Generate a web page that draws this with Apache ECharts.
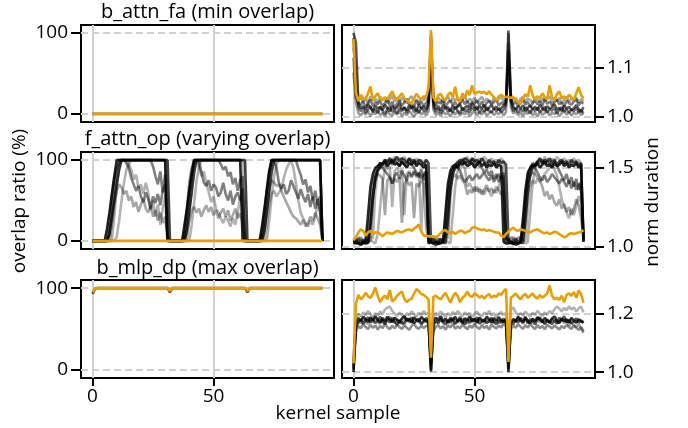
<!DOCTYPE html>
<html><head><meta charset="utf-8">
<script src="https://cdn.jsdelivr.net/npm/echarts@6/dist/echarts.min.js"></script>
<style>html,body{margin:0;padding:0;background:#fff}#c{width:688px;height:428px}</style>
</head><body><div id="c"></div>
<script>
// ---------- tick labels / titles ----------
const panelTitles = ['b_attn_fa (min overlap)', 'f_attn_op (varying overlap)', 'b_mlp_dp (max overlap)'];
const xLabel = 'kernel sample';
const yLeftLabel = 'overlap ratio (%)';
const yRightLabel = 'norm duration';
const xTicks = [0, 50];
const overlapTicks = [0, 100];
const durTicksTop = [1.0, 1.1];
const durTicksMid = [1.0, 1.5];
const durTicksBot = [1.0, 1.2];

// kernel sample index (x)
const samples = Array.from({length: 96}, (_, i) => i);

// ---------- row 1: b_attn_fa ----------
const ltGray = [
0,0,0,0,0,0,0,0,0,0,0,0,0,0,0,0, 0,0,0,0,0,0,0,0,0,0,0,0,0,0,0,0,
0,0,0,0,0,0,0,0,0,0,0,0,0,0,0,0, 0,0,0,0,0,0,0,0,0,0,0,0,0,0,0,0,
0,0,0,0,0,0,0,0,0,0,0,0,0,0,0,0, 0,0,0,0,0,0,0,0,0,0,0,0,0,0,0,0];
const ltOrange = [
0,0,0,0,0,0,0,0,0,0,0,0,0,0,0,0, 0,0,0,0,0,0,0,0,0,0,0,0,0,0,0,0,
0,0,0,0,0,0,0,0,0,0,0,0,0,0,0,0, 0,0,0,0,0,0,0,0,0,0,0,0,0,0,0,0,
0,0,0,0,0,0,0,0,0,0,0,0,0,0,0,0, 0,0,0,0,0,0,0,0,0,0,0,0,0,0,0,0];

const rtGray1 = [
1.170,1.150,1.028,1.018,1.022,1.015,1.026,1.019,1.012,1.024,
1.017,1.021,1.014,1.025,1.018,1.011,1.023,1.016,1.020,1.027,
1.015,1.019,1.013,1.024,1.018,1.021,1.012,1.026,1.017,1.022,
1.015,1.030,1.165,1.030,1.016,1.022,1.013,1.025,1.018,1.020,
1.011,1.024,1.017,1.021,1.026,1.014,1.019,1.023,1.016,1.028,
1.020,1.015,1.022,1.018,1.025,1.013,1.019,1.024,1.016,1.021,
1.014,1.018,1.023,1.030,1.175,1.040,1.020,1.015,1.022,1.017,
1.024,1.012,1.019,1.023,1.016,1.021,1.014,1.025,1.018,1.013,
1.022,1.017,1.020,1.026,1.015,1.019,1.012,1.023,1.017,1.021,
1.014,1.018,1.024,1.016,1.011,1.020];
const rtGray2 = [
1.160,1.060,1.020,1.012,1.018,1.009,1.015,1.022,1.010,1.016,
1.008,1.019,1.013,1.006,1.017,1.021,1.011,1.014,1.007,1.018,
1.012,1.020,1.009,1.015,1.023,1.010,1.016,1.008,1.019,1.013,
1.011,1.025,1.150,1.022,1.010,1.017,1.008,1.014,1.020,1.011,
1.016,1.009,1.021,1.013,1.007,1.018,1.012,1.015,1.010,1.019,
1.014,1.022,1.008,1.016,1.011,1.020,1.013,1.009,1.017,1.012,
1.018,1.010,1.015,1.024,1.135,1.030,1.012,1.018,1.009,1.016,
1.011,1.020,1.014,1.008,1.017,1.012,1.019,1.010,1.015,1.021,
1.009,1.016,1.013,1.018,1.007,1.014,1.020,1.011,1.016,1.009,
1.015,1.012,1.018,1.010,1.014,1.008];
const rtGray3 = [
1.120,1.040,1.030,1.025,1.032,1.020,1.028,1.035,1.022,1.030,
1.026,1.033,1.021,1.029,1.036,1.024,1.031,1.019,1.027,1.034,
1.023,1.030,1.037,1.025,1.028,1.020,1.033,1.026,1.031,1.022,
1.029,1.035,1.140,1.034,1.024,1.031,1.027,1.036,1.022,1.029,
1.033,1.025,1.030,1.021,1.028,1.035,1.026,1.032,1.023,1.030,
1.027,1.034,1.024,1.031,1.020,1.028,1.033,1.025,1.030,1.036,
1.023,1.029,1.026,1.035,1.100,1.032,1.026,1.031,1.022,1.029,
1.034,1.025,1.030,1.021,1.028,1.033,1.026,1.032,1.023,1.037,
1.027,1.031,1.024,1.030,1.035,1.026,1.029,1.022,1.033,1.028,
1.025,1.031,1.036,1.024,1.030,1.027];
const rtGray4 = [
1.090,1.030,1.008,1.003,1.010,1.005,1.012,1.002,1.009,1.006,
1.013,1.004,1.008,1.001,1.011,1.006,1.003,1.010,1.005,1.012,
1.002,1.009,1.004,1.011,1.007,1.001,1.008,1.013,1.005,1.010,
1.003,1.012,1.120,1.015,1.004,1.009,1.002,1.011,1.006,1.008,
1.001,1.010,1.005,1.012,1.003,1.009,1.006,1.011,1.002,1.008,
1.013,1.004,1.010,1.005,1.012,1.003,1.008,1.011,1.004,1.009,
1.006,1.012,1.003,1.010,1.170,1.020,1.007,1.011,1.004,1.009,
1.002,1.010,1.006,1.013,1.004,1.009,1.001,1.011,1.005,1.008,
1.012,1.003,1.009,1.006,1.010,1.002,1.008,1.013,1.005,1.010,
1.003,1.009,1.006,1.011,1.004,1.008];
const rtGray5 = [
1.140,1.100,1.035,1.040,1.030,1.038,1.028,1.042,1.033,1.037,
1.029,1.041,1.034,1.039,1.027,1.036,1.043,1.031,1.038,1.030,
1.040,1.033,1.028,1.037,1.042,1.031,1.036,1.029,1.039,1.034,
1.041,1.030,1.160,1.038,1.029,1.040,1.034,1.027,1.036,1.042,
1.031,1.038,1.033,1.040,1.028,1.036,1.043,1.030,1.037,1.032,
1.039,1.029,1.035,1.041,1.030,1.037,1.033,1.028,1.040,1.034,
1.036,1.042,1.031,1.038,1.150,1.045,1.033,1.039,1.028,1.036,
1.041,1.030,1.037,1.034,1.029,1.040,1.035,1.031,1.038,1.033,
1.036,1.042,1.030,1.037,1.032,1.039,1.028,1.035,1.041,1.031,
1.037,1.033,1.040,1.029,1.036,1.032];
const rtOrange = [
1.158,1.050,1.032,1.045,1.038,1.036,1.048,1.062,1.035,1.042,1.048,1.038,1.034,1.040,1.036,1.044,
1.052,1.040,1.034,1.042,1.048,1.038,1.034,1.030,1.027,1.038,1.047,1.040,1.036,1.042,1.040,1.060,
1.176,1.040,1.031,1.044,1.047,1.038,1.034,1.045,1.050,1.040,1.061,1.035,1.031,1.048,1.038,1.054,
1.044,1.064,1.047,1.050,1.051,1.049,1.051,1.046,1.052,1.045,1.040,1.034,1.042,1.045,1.040,1.041,
1.040,1.039,1.040,1.036,1.030,1.027,1.038,1.046,1.041,1.064,1.043,1.035,1.042,1.038,1.048,1.040,
1.036,1.064,1.040,1.034,1.046,1.052,1.038,1.042,1.036,1.045,1.040,1.034,1.048,1.060,1.045,1.037];

// ---------- row 2: f_attn_op ----------
const lmGray1 = [
0,0,0,0,0,0,15,35,58,80,100,100,100,100,100,100, 100,100,100,100,100,100,100,100,100,100,100,100,100,100,100,0,
0,0,0,0,0,0,20,40,62,82,100,100,100,100,100,100, 100,100,100,100,100,100,100,100,100,100,100,100,100,100,0,0,
0,0,0,0,0,0,18,40,62,84,100,100,100,100,100,100, 100,100,100,100,100,100,100,100,100,100,100,100,100,100,100,0];
const lmGray2 = [
0,0,0,0,0,0,0,10,30,50,70,88,100,100,100,100, 100,100,100,100,100,100,100,100,100,100,100,100,100,100,100,100,
0,0,0,0,0,0,0,15,38,60,85,100,100,100,100,100, 100,100,100,100,100,100,100,100,100,100,100,100,100,100,100,100,
0,0,0,0,0,0,0,12,35,60,85,100,100,100,100,100, 100,100,100,100,100,100,100,100,100,100,100,100,100,100,100,0];
const lmGray3 = [
0,0,0,0,0,0,0,25,55,75,90,97,100,100,96,90, 78,70,62,68,55,48,60,52,40,55,47,58,44,62,70,5,
0,0,0,0,0,0,10,40,72,90,100,100,98,85,72,68, 75,62,70,66,55,60,72,58,50,62,45,55,60,50,65,0,
0,0,0,0,0,0,5,30,60,85,100,100,90,72,65,70, 58,62,75,68,60,52,64,55,48,58,42,55,40,52,35,0];
const lmGray4 = [
0,0,0,0,0,0,0,0,20,45,62,70,66,58,62,50, 55,42,48,36,45,52,40,35,44,30,38,25,35,22,30,0,
0,0,0,0,0,0,0,10,25,38,42,35,40,30,38,44, 36,42,32,38,28,35,40,30,38,25,32,40,28,34,22,0,
0,0,0,0,0,0,0,15,40,65,75,72,68,70,62,55, 48,42,35,30,28,24,20,26,18,22,30,25,35,28,20,0];
const lmGray5 = [
0,0,0,0,0,0,0,0,0,30,65,90,100,100,100,95, 88,76,82,65,70,58,72,60,38,50,30,45,20,40,55,0,
0,0,0,0,0,0,0,0,30,70,95,100,92,80,86,72, 60,48,55,40,35,28,22,30,25,18,28,20,35,55,40,0,
0,0,0,0,0,0,0,0,20,45,58,62,55,60,64,78, 88,95,100,90,72,50,35,28,22,18,25,20,30,45,38,0];
const lmGray6 = [
0,0,0,0,0,0,0,0,0,0,5,25,50,72,88,95, 100,100,100,100,100,100,100,100,100,100,100,100,100,100,100,0,
0,0,0,0,0,0,0,0,0,20,48,75,92,100,100,100, 100,100,100,100,100,100,100,100,100,100,100,100,100,100,100,0,
0,0,0,0,0,0,0,0,0,25,55,80,95,100,100,100, 100,100,100,100,100,100,100,100,100,100,100,100,100,100,100,0];
const lmGray7 = [
0,0,0,0,0,0,0,8,30,65,88,100,100,100,100,100, 100,100,100,100,100,100,100,100,100,92,80,70,86,60,82,0,
0,0,0,0,0,0,5,28,60,85,100,100,100,100,100,100, 100,100,100,100,100,95,88,92,80,85,70,78,62,75,80,0,
0,0,0,0,0,0,10,35,65,88,100,100,100,100,100,100, 100,100,100,100,100,90,82,70,76,60,68,50,62,45,55,0];
const lmOrange = [
0,0,0,0,0,0,0,0,0,0,0,0,0,0,0,0, 0,0,0,0,0,0,0,0,0,0,0,0,0,0,0,0,
0,0,0,0,0,0,0,0,0,0,0,0,0,0,0,0, 0,0,0,0,0,0,0,0,0,0,0,0,0,0,0,0,
0,0,0,0,0,0,0,0,0,0,0,0,0,0,0,0, 0,0,0,0,0,0,0,0,0,0,0,0,0,0,0,0];

const rmGray1 = [
1.03,1.02,1.025,1.015,1.02,1.03,1.20,1.38,1.46,1.50,1.51,1.53,1.52,1.54,1.51,1.53, 1.55,1.52,1.53,1.51,1.54,1.52,1.50,1.53,1.52,1.54,1.51,1.53,1.52,1.50,1.52,1.02,
1.03,1.02,1.03,1.015,1.025,1.03,1.22,1.40,1.48,1.51,1.52,1.50,1.53,1.52,1.54,1.51, 1.52,1.53,1.50,1.52,1.54,1.51,1.53,1.50,1.52,1.51,1.53,1.50,1.52,1.51,1.03,1.02,
1.02,1.03,1.015,1.025,1.02,1.03,1.18,1.36,1.47,1.50,1.52,1.51,1.53,1.50,1.52,1.54, 1.51,1.52,1.50,1.53,1.51,1.52,1.54,1.51,1.53,1.50,1.52,1.51,1.53,1.50,1.52,1.03];
const rmGray2 = [
1.02,1.03,1.02,1.01,1.03,1.02,1.025,1.15,1.32,1.42,1.48,1.50,1.53,1.55,1.54,1.56, 1.53,1.55,1.57,1.54,1.56,1.55,1.53,1.56,1.54,1.55,1.53,1.55,1.54,1.52,1.55,1.53,
1.03,1.02,1.01,1.025,1.02,1.03,1.02,1.18,1.36,1.46,1.50,1.53,1.55,1.54,1.56,1.55, 1.53,1.56,1.54,1.55,1.53,1.56,1.54,1.52,1.55,1.53,1.54,1.52,1.55,1.53,1.54,1.52,
1.03,1.02,1.03,1.01,1.02,1.03,1.02,1.16,1.34,1.45,1.50,1.52,1.54,1.56,1.53,1.55, 1.54,1.56,1.53,1.55,1.52,1.54,1.55,1.53,1.54,1.52,1.55,1.53,1.54,1.52,1.53,1.04];
const rmGray3 = [
1.04,1.03,1.05,1.03,1.04,1.02,1.04,1.25,1.40,1.46,1.49,1.51,1.50,1.48,1.46,1.44, 1.40,1.45,1.47,1.43,1.48,1.45,1.42,1.47,1.44,1.48,1.45,1.47,1.43,1.46,1.48,1.05,
1.04,1.05,1.03,1.04,1.05,1.03,1.15,1.35,1.45,1.49,1.51,1.50,1.48,1.44,1.41,1.43, 1.45,1.42,1.44,1.46,1.43,1.45,1.47,1.44,1.42,1.45,1.41,1.44,1.46,1.43,1.45,1.04,
1.05,1.03,1.04,1.05,1.03,1.04,1.10,1.30,1.42,1.48,1.51,1.50,1.47,1.44,1.42,1.45, 1.41,1.43,1.46,1.44,1.42,1.40,1.43,1.41,1.38,1.42,1.37,1.41,1.36,1.40,1.35,1.05];
const rmGray4 = [
1.03,1.05,1.04,1.06,1.04,1.05,1.03,1.04,1.30,1.44,1.46,1.45,1.43,1.20,1.42,1.44, 1.40,1.43,1.41,1.44,1.15,1.40,1.42,1.39,1.41,1.18,1.40,1.38,1.42,1.40,1.12,1.04,
1.05,1.04,1.06,1.05,1.04,1.05,1.06,1.10,1.38,1.44,1.46,1.43,1.45,1.42,1.40,1.33, 1.36,1.34,1.38,1.35,1.37,1.33,1.36,1.39,1.35,1.37,1.34,1.38,1.36,1.33,1.35,1.05,
1.04,1.06,1.05,1.04,1.06,1.05,1.04,1.20,1.40,1.45,1.47,1.46,1.44,1.42,1.38,1.32, 1.35,1.30,1.33,1.28,1.26,1.30,1.24,1.27,1.22,1.25,1.20,1.24,1.30,1.26,1.18,1.05];
const rmGray5 = [
1.05,1.04,1.06,1.05,1.03,1.05,1.04,1.06,1.05,1.35,1.48,1.52,1.50,1.53,1.49,1.51, 1.25,1.48,1.50,1.47,1.49,1.20,1.46,1.48,1.45,1.47,1.44,1.46,1.10,1.45,1.47,1.05,
1.04,1.06,1.05,1.03,1.05,1.04,1.06,1.05,1.30,1.46,1.50,1.52,1.49,1.51,1.50,1.38, 1.40,1.37,1.35,1.38,1.34,1.36,1.33,1.37,1.35,1.32,1.36,1.34,1.38,1.45,1.42,1.05,
1.05,1.04,1.06,1.05,1.04,1.06,1.05,1.04,1.25,1.38,1.42,1.40,1.43,1.41,1.44,1.46, 1.48,1.50,1.52,1.49,1.45,1.38,1.30,1.26,1.22,1.18,1.24,1.20,1.26,1.32,1.28,1.05];
const rmGray6 = [
1.02,1.03,1.02,1.04,1.03,1.02,1.03,1.04,1.03,1.02,1.08,1.25,1.40,1.50,1.54,1.56, 1.55,1.57,1.54,1.56,1.55,1.57,1.54,1.56,1.55,1.53,1.56,1.54,1.55,1.53,1.55,1.03,
1.02,1.03,1.04,1.02,1.03,1.02,1.04,1.03,1.02,1.20,1.38,1.48,1.53,1.56,1.55,1.57, 1.54,1.56,1.55,1.53,1.56,1.54,1.57,1.55,1.53,1.56,1.54,1.55,1.53,1.56,1.54,1.03,
1.03,1.02,1.04,1.03,1.02,1.03,1.04,1.02,1.03,1.22,1.40,1.49,1.53,1.56,1.54,1.57, 1.55,1.53,1.56,1.54,1.57,1.55,1.53,1.56,1.54,1.55,1.53,1.56,1.54,1.55,1.53,1.03];
const rmGray7 = [
1.03,1.04,1.03,1.02,1.04,1.03,1.02,1.12,1.30,1.44,1.50,1.53,1.52,1.55,1.53,1.54, 1.52,1.55,1.53,1.51,1.54,1.52,1.53,1.55,1.52,1.50,1.47,1.44,1.49,1.42,1.47,1.04,
1.03,1.04,1.02,1.03,1.04,1.03,1.08,1.26,1.42,1.49,1.52,1.54,1.53,1.55,1.52,1.54, 1.53,1.55,1.52,1.53,1.51,1.50,1.47,1.49,1.45,1.48,1.43,1.46,1.41,1.45,1.47,1.03,
1.04,1.03,1.02,1.04,1.03,1.02,1.10,1.28,1.43,1.50,1.53,1.52,1.54,1.53,1.55,1.52, 1.54,1.53,1.51,1.54,1.52,1.48,1.45,1.42,1.46,1.40,1.44,1.38,1.43,1.36,1.41,1.04];
const rmOrange = [
1.04,1.06,1.09,1.11,1.10,1.07,1.09,1.10,1.08,1.09,1.09,1.08,1.065,1.08,1.09,1.085,
1.08,1.09,1.10,1.095,1.09,1.10,1.105,1.11,1.10,1.115,1.125,1.14,1.095,1.07,1.07,1.065,
1.065,1.065,1.06,1.07,1.085,1.10,1.105,1.09,1.085,1.095,1.08,1.09,1.10,1.10,1.085,1.095,
1.10,1.12,1.125,1.115,1.11,1.105,1.11,1.10,1.105,1.10,1.095,1.09,1.09,1.07,1.06,1.08,
1.095,1.11,1.12,1.105,1.10,1.11,1.105,1.10,1.095,1.09,1.10,1.105,1.11,1.10,1.09,1.085,
1.09,1.08,1.085,1.095,1.09,1.08,1.07,1.06,1.065,1.08,1.085,1.08,1.085,1.09,1.095,1.105];

// ---------- row 3: b_mlp_dp ----------
const lbGray = [
93,99,100,100,100,100,100,100,100,100,100,100,100,100,100,100, 100,100,100,100,100,100,100,100,100,100,100,100,100,100,100,100,
95,100,100,100,100,100,100,100,100,100,100,100,100,100,100,100, 100,100,100,100,100,100,100,100,100,100,100,100,100,100,100,100,
95,100,100,100,100,100,100,100,100,100,100,100,100,100,100,100, 100,100,100,100,100,100,100,100,100,100,100,100,100,100,100,100];
const lbOrange = [
95,99.5,100,100,100,100,100,100,100,100,100,100,100,100,100,100, 100,100,100,100,100,100,100,100,100,100,100,100,100,100,100,100,
96.5,100,100,100,100,100,100,100,100,100,100,100,100,100,100,100, 100,100,100,100,100,100,100,100,100,100,100,100,100,100,100,100,
96.5,100,100,100,100,100,100,100,100,100,100,100,100,100,100,100, 100,100,100,100,100,100,100,100,100,100,100,100,100,100,100,100];

const rbGray1 = [
1.000,1.170,1.185,1.176,1.190,1.182,1.172,1.188,1.178,1.192,
1.180,1.170,1.186,1.175,1.190,1.181,1.172,1.187,1.179,1.169,
1.184,1.192,1.176,1.183,1.170,1.188,1.179,1.174,1.189,1.181,
1.176,1.170,1.002,1.175,1.187,1.179,1.192,1.174,1.184,1.171,
1.186,1.177,1.190,1.173,1.182,1.168,1.185,1.178,1.191,1.175,
1.183,1.170,1.187,1.179,1.174,1.190,1.181,1.169,1.185,1.176,
1.188,1.178,1.172,1.180,1.000,1.168,1.182,1.175,1.190,1.179,
1.171,1.186,1.177,1.168,1.184,1.174,1.189,1.180,1.172,1.186,
1.176,1.170,1.184,1.191,1.178,1.168,1.185,1.175,1.181,1.170,
1.186,1.177,1.169,1.182,1.174,1.172];
const rbGray2 = [
1.010,1.150,1.172,1.180,1.166,1.178,1.188,1.170,1.182,1.168,
1.176,1.190,1.174,1.165,1.181,1.170,1.186,1.173,1.162,1.179,
1.170,1.166,1.182,1.175,1.188,1.168,1.176,1.183,1.165,1.174,
1.186,1.178,1.008,1.160,1.176,1.168,1.181,1.170,1.163,1.178,
1.170,1.185,1.166,1.176,1.189,1.172,1.164,1.180,1.169,1.183,
1.175,1.188,1.166,1.174,1.181,1.168,1.176,1.186,1.171,1.164,
1.177,1.169,1.184,1.174,1.010,1.172,1.165,1.180,1.170,1.186,
1.176,1.190,1.168,1.182,1.173,1.164,1.180,1.188,1.175,1.166,
1.181,1.172,1.165,1.179,1.168,1.186,1.176,1.192,1.170,1.180,
1.168,1.175,1.184,1.170,1.178,1.168];
const rbGray3 = [
1.020,1.140,1.158,1.150,1.165,1.155,1.148,1.162,1.152,1.160,
1.146,1.158,1.151,1.166,1.154,1.147,1.160,1.150,1.163,1.155,
1.148,1.161,1.152,1.145,1.158,1.166,1.153,1.149,1.160,1.151,
1.158,1.162,1.020,1.140,1.155,1.162,1.150,1.158,1.146,1.160,
1.153,1.165,1.149,1.157,1.150,1.163,1.155,1.147,1.160,1.152,
1.166,1.154,1.148,1.161,1.152,1.158,1.146,1.163,1.155,1.150,
1.160,1.153,1.166,1.158,1.020,1.148,1.160,1.152,1.164,1.156,
1.149,1.161,1.153,1.166,1.155,1.148,1.162,1.151,1.158,1.147,
1.163,1.156,1.150,1.160,1.153,1.146,1.158,1.151,1.162,1.155,
1.148,1.160,1.152,1.145,1.155,1.140];
const rbGray4 = [
1.030,1.180,1.200,1.192,1.205,1.196,1.210,1.198,1.188,1.202,
1.195,1.208,1.199,1.215,1.222,1.225,1.210,1.200,1.193,1.205,
1.196,1.188,1.202,1.194,1.208,1.199,1.190,1.204,1.196,1.210,
1.198,1.205,1.030,1.190,1.203,1.195,1.208,1.198,1.190,1.202,
1.194,1.206,1.197,1.210,1.200,1.192,1.205,1.196,1.203,1.190,
1.200,1.207,1.196,1.192,1.204,1.198,1.210,1.195,1.202,1.188,
1.199,1.206,1.196,1.203,1.030,1.215,1.222,1.205,1.196,1.202,
1.194,1.208,1.198,1.190,1.204,1.196,1.210,1.200,1.192,1.205,
1.197,1.210,1.202,1.215,1.225,1.218,1.208,1.220,1.212,1.226,
1.215,1.222,1.208,1.218,1.225,1.205];
const rbGray5 = [
1.040,1.160,1.175,1.168,1.182,1.172,1.165,1.178,1.170,1.185,
1.174,1.166,1.180,1.170,1.178,1.190,1.176,1.168,1.182,1.173,
1.165,1.179,1.186,1.171,1.176,1.168,1.181,1.173,1.166,1.178,
1.170,1.182,1.040,1.165,1.176,1.169,1.183,1.172,1.178,1.166,
1.180,1.172,1.165,1.178,1.170,1.185,1.174,1.167,1.181,1.172,
1.176,1.169,1.183,1.174,1.166,1.178,1.171,1.184,1.170,1.177,
1.168,1.180,1.173,1.176,1.040,1.170,1.178,1.172,1.185,1.175,
1.166,1.179,1.172,1.168,1.181,1.174,1.186,1.170,1.177,1.165,
1.178,1.171,1.183,1.175,1.166,1.172,1.180,1.168,1.176,1.160,
1.170,1.162,1.155,1.165,1.150,1.135];
const rbOrange = [
1.030,1.235,1.265,1.250,1.258,1.272,1.260,1.255,1.268,1.290,
1.262,1.240,1.255,1.262,1.250,1.282,1.242,1.250,1.262,1.270,
1.276,1.252,1.240,1.248,1.252,1.268,1.285,1.278,1.268,1.265,
1.258,1.250,1.050,1.258,1.262,1.255,1.250,1.262,1.272,1.255,
1.238,1.258,1.272,1.262,1.240,1.255,1.262,1.276,1.262,1.258,
1.270,1.265,1.255,1.262,1.252,1.262,1.268,1.255,1.262,1.258,
1.270,1.265,1.278,1.285,1.035,1.255,1.262,1.270,1.258,1.250,
1.262,1.268,1.255,1.262,1.270,1.258,1.252,1.265,1.255,1.262,
1.270,1.298,1.262,1.250,1.255,1.248,1.262,1.240,1.265,1.270,
1.262,1.275,1.255,1.280,1.268,1.238];

// ---------- styling ----------
const FONT = 'Open Sans';
const FS = 19;
const ORANGE = '#E69F00';
const GRID_GRAY = '#d0d0d0';

const rowBoxes = [{top: 25, height: 97}, {top: 152, height: 97}, {top: 280, height: 98}];
const colBoxes = [{left: 81, width: 253}, {left: 342, width: 253}];
const rightRanges = [{min: 0.99, max: 1.186, ticks: durTicksTop}, {min: 0.985, max: 1.6, ticks: durTicksMid}, {min: 0.98, max: 1.316, ticks: durTicksBot}];

const panels = [
  {row: 0, col: 0, grays: [[ltGray, 0.6]], orange: ltOrange},
  {row: 0, col: 1, grays: [[rtGray1, 0.65], [rtGray2, 0.55], [rtGray3, 0.5], [rtGray4, 0.4], [rtGray5, 0.35]], orange: rtOrange},
  {row: 1, col: 0, grays: [[lmGray6, 0.3], [lmGray5, 0.3], [lmGray4, 0.35], [lmGray3, 0.5], [lmGray7, 0.5], [lmGray2, 0.75], [lmGray1, 0.85]], orange: lmOrange},
  {row: 1, col: 1, grays: [[rmGray6, 0.3], [rmGray5, 0.3], [rmGray4, 0.35], [rmGray3, 0.5], [rmGray7, 0.5], [rmGray2, 0.7], [rmGray1, 0.85]], orange: rmOrange},
  {row: 2, col: 0, grays: [[lbGray, 0.7]], orange: lbOrange},
  {row: 2, col: 1, grays: [[rbGray5, 0.35], [rbGray4, 0.3], [rbGray3, 0.45], [rbGray2, 0.65], [rbGray1, 0.8]], orange: rbOrange}
];

const grids = [], xAxes = [], yAxes = [], series = [];
panels.forEach((p, i) => {
  const r = rowBoxes[p.row], c = colBoxes[p.col];
  grids.push({left: c.left, width: c.width, top: r.top, height: r.height, show: true,
    borderColor: '#000', borderWidth: 2, backgroundColor: 'transparent'});
  const bottom = p.row === 2;
  xAxes.push({type: 'value', gridIndex: i, position: 'bottom', min: -4.75, max: 99.75,
    axisLine: {show: false, onZero: false},
    axisTick: {show: bottom, customValues: xTicks, length: 8, lineStyle: {color: '#000', width: 2}},
    axisLabel: {show: bottom, customValues: xTicks, margin: 9, color: '#000', fontSize: FS, fontFamily: FONT},
    splitLine: {show: true, lineStyle: {color: GRID_GRAY, width: 2, type: 'solid'}}});
  if (p.col === 0) {
    yAxes.push({type: 'value', gridIndex: i, position: 'left', min: -10, max: 110,
      axisLine: {show: false, onZero: false},
      axisTick: {show: true, customValues: overlapTicks, length: 10, lineStyle: {color: '#000', width: 2}},
      axisLabel: {show: true, customValues: overlapTicks, margin: 13, color: '#000', fontSize: FS, fontFamily: FONT},
      splitLine: {show: true, lineStyle: {color: GRID_GRAY, width: 2, type: [7, 4]}}});
  } else {
    const rr = rightRanges[p.row];
    yAxes.push({type: 'value', gridIndex: i, position: 'right', min: rr.min, max: rr.max,
      axisLine: {show: false, onZero: false},
      axisTick: {show: true, customValues: rr.ticks, length: 9, lineStyle: {color: '#000', width: 2}},
      axisLabel: {show: true, customValues: rr.ticks, margin: 12, color: '#000', fontSize: FS, fontFamily: FONT,
        formatter: v => Number(v).toFixed(1)},
      splitLine: {show: true, lineStyle: {color: GRID_GRAY, width: 2, type: [7, 4]}}});
  }
  p.grays.forEach(([arr, a]) => {
    series.push({type: 'line', xAxisIndex: i, yAxisIndex: i, symbol: 'none', showSymbol: false,
      data: arr.map((v, k) => [samples[k], v]), z: 2,
      lineStyle: {color: '#000', opacity: a, width: 2.6}, silent: true});
  });
  series.push({type: 'line', xAxisIndex: i, yAxisIndex: i, symbol: 'none', showSymbol: false,
    data: p.orange.map((v, k) => [samples[k], v]), z: 3,
    lineStyle: {color: ORANGE, width: 2.6}, silent: true});
});

const txt = (text, x, y, rot, fs) => ({type: 'text', x: x, y: y, rotation: rot || 0, silent: true,
  style: {text: text, fill: '#000', font: (fs || FS) + 'px "' + FONT + '"', fontSize: fs || FS, fontFamily: FONT,
    align: 'center', verticalAlign: 'middle', textAlign: 'center', textVerticalAlign: 'middle'}});

const chart = echarts.init(document.getElementById('c'), null, {renderer: 'canvas'});
chart.setOption({
  animation: false,
  backgroundColor: '#fff',
  grid: grids, xAxis: xAxes, yAxis: yAxes, series: series,
  graphic: [
    txt(panelTitles[0], 207.5, 12, 0, 20),
    txt(panelTitles[1], 207.5, 139, 0, 20),
    txt(panelTitles[2], 207.5, 268, 0, 20),
    txt(xLabel, 338, 414),
    txt(yLeftLabel, 20, 201, Math.PI / 2),
    txt(yRightLabel, 653, 202, Math.PI / 2)
  ]
});
</script></body></html>
